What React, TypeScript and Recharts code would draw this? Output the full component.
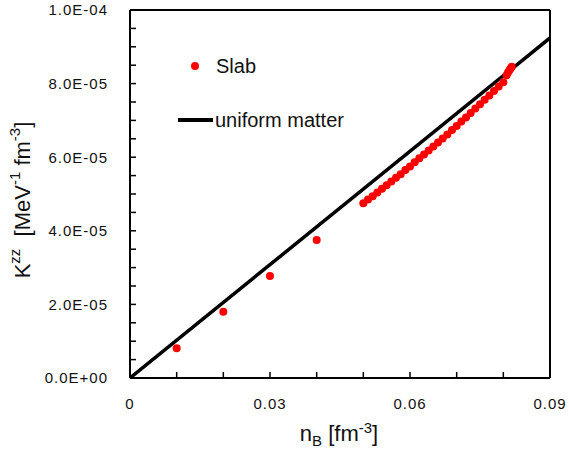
import React from "react";
import {
  ScatterChart,
  Scatter,
  XAxis,
  YAxis,
  ReferenceLine,
  Label,
} from "recharts";

// slab calculation, K^zz vs n_B
const slabNB = [
  0.01, 0.02, 0.03, 0.04,
  0.05, 0.051, 0.052, 0.053, 0.054, 0.055, 0.056, 0.057, 0.058, 0.059,
  0.06, 0.061, 0.062, 0.063, 0.064, 0.065, 0.066, 0.067, 0.068, 0.069,
  0.07, 0.071, 0.072, 0.073, 0.074, 0.075, 0.076, 0.077, 0.078, 0.079,
  0.08, 0.0807, 0.081, 0.0813, 0.0816, 0.0818,
];
const slabK = [
  8.1e-6, 1.8e-5, 2.77e-5, 3.75e-5,
  4.75e-5, 4.85e-5, 4.94e-5, 5.04e-5, 5.14e-5, 5.24e-5, 5.34e-5, 5.44e-5, 5.54e-5, 5.65e-5,
  5.75e-5, 5.86e-5, 5.97e-5, 6.07e-5, 6.18e-5, 6.29e-5, 6.4e-5, 6.51e-5, 6.62e-5, 6.74e-5,
  6.85e-5, 6.97e-5, 7.08e-5, 7.2e-5, 7.32e-5, 7.44e-5, 7.56e-5, 7.68e-5, 7.8e-5, 7.92e-5,
  8.04e-5, 8.23e-5, 8.3e-5, 8.36e-5, 8.42e-5, 8.46e-5,
];

// uniform matter (straight line)
const uniformNB = [0, 0.09];
const uniformK = [0, 9.24e-5];

const xTicks = [0, 0.01, 0.02, 0.03, 0.04, 0.05, 0.06, 0.07, 0.08, 0.09];
const xTickLabels = ["0", "0.03", "0.06", "0.09"];
const yTicks = [
  0, 5e-6, 1e-5, 1.5e-5, 2e-5, 2.5e-5, 3e-5, 3.5e-5, 4e-5, 4.5e-5, 5e-5,
  5.5e-5, 6e-5, 6.5e-5, 7e-5, 7.5e-5, 8e-5, 8.5e-5, 9e-5, 9.5e-5, 1e-4,
];
const yTickLabels = ["0.0E+00", "2.0E-05", "4.0E-05", "6.0E-05", "8.0E-05", "1.0E-04"];

const slabData = slabNB.map((x, i) => ({ x, y: slabK[i] }));
const uniformData = uniformNB.map((x, i) => ({ x, y: uniformK[i] }));

const FONT = "Liberation Sans, Arial, sans-serif";
const tickStyle = { fontSize: 15, fill: "#111", fontFamily: FONT, letterSpacing: 1 };

const LegendBox = () => (
  <div
    style={{
      position: "absolute",
      left: 174,
      top: 51,
      fontFamily: FONT,
      fontSize: 20,
      color: "#111",
      pointerEvents: "none",
    }}
  >
    <div style={{ display: "flex", alignItems: "center", height: 30 }}>
      <svg width={42} height={20}>
        <circle cx={21} cy={10} r={4} fill="#ff0000" />
      </svg>
      <span>Slab</span>
    </div>
    <div style={{ display: "flex", alignItems: "center", height: 30, marginTop: 24 }}>
      <svg width={41} height={20}>
        <line x1={4} y1={10} x2={39} y2={10} stroke="#000" strokeWidth={4} />
      </svg>
      <span>uniform matter</span>
    </div>
  </div>
);

export default function App() {
  return (
    <div style={{ position: "absolute", left: 0, top: 0, width: 569, height: 450 }}>
      <ScatterChart
        width={569}
        height={450}
        margin={{ top: 10, right: 19, bottom: 0, left: 0 }}
      >
        <XAxis
          type="number"
          dataKey="x"
          domain={[0, 0.09]}
          ticks={xTicks}
          interval={0}
          allowDataOverflow
          tickSize={-6}
          tickMargin={26}
          height={72}
          axisLine={{ stroke: "#000", strokeWidth: 2 }}
          tickLine={{ stroke: "#000", strokeWidth: 1.5 }}
          tick={tickStyle}
          tickFormatter={(_v: number, i: number) => (i % 3 === 0 ? xTickLabels[i / 3] : "")}
        >
          <Label
            content={() => (
              <text x={339} y={441} textAnchor="middle" fontFamily={FONT} fontSize={22} fill="#111">
                n<tspan fontSize={15} dy={5}>B</tspan>
                <tspan dy={-5}> [fm</tspan>
                <tspan fontSize={15} dy={-8}>-3</tspan>
                <tspan dy={8}>]</tspan>
              </text>
            )}
          />
        </XAxis>
        <YAxis
          type="number"
          dataKey="y"
          domain={[0, 1e-4]}
          ticks={yTicks}
          interval={0}
          allowDataOverflow
          width={130}
          tickSize={-6}
          tickMargin={28}
          axisLine={{ stroke: "#000", strokeWidth: 2 }}
          tickLine={{ stroke: "#000", strokeWidth: 1.5 }}
          tick={tickStyle}
          tickFormatter={(_v: number, i: number) => (i % 4 === 0 ? yTickLabels[i / 4] : "")}
        >
          <Label
            content={() => (
              <text
                x={22}
                y={200}
                transform="rotate(-90 22 200)"
                textAnchor="middle"
                dominantBaseline="central"
                fontFamily={FONT}
                fontSize={22}
                fill="#111"
              >
                K<tspan fontSize={15} dy={-8}>zz</tspan>
                <tspan dy={8}>{"\u00a0 [MeV"}</tspan>
                <tspan fontSize={15} dy={-8}>-1</tspan>
                <tspan dy={8}> fm</tspan>
                <tspan fontSize={15} dy={-8}>-3</tspan>
                <tspan dy={8}>]</tspan>
              </text>
            )}
          />
        </YAxis>
        <ReferenceLine y={1e-4} stroke="#000" strokeWidth={2} ifOverflow="extendDomain" />
        <ReferenceLine x={0.09} stroke="#000" strokeWidth={2} ifOverflow="extendDomain" />
        <Scatter
          name="uniform matter"
          data={uniformData}
          line={{ stroke: "#000", strokeWidth: 3.5 }}
          shape={() => <g />}
          isAnimationActive={false}
        />
        <Scatter
          name="Slab"
          data={slabData}
          fill="#ff0000"
          shape={(p: any) => <circle cx={p.cx} cy={p.cy} r={4} fill="#ff0000" />}
          isAnimationActive={false}
        />
      </ScatterChart>
      <LegendBox />
    </div>
  );
}
